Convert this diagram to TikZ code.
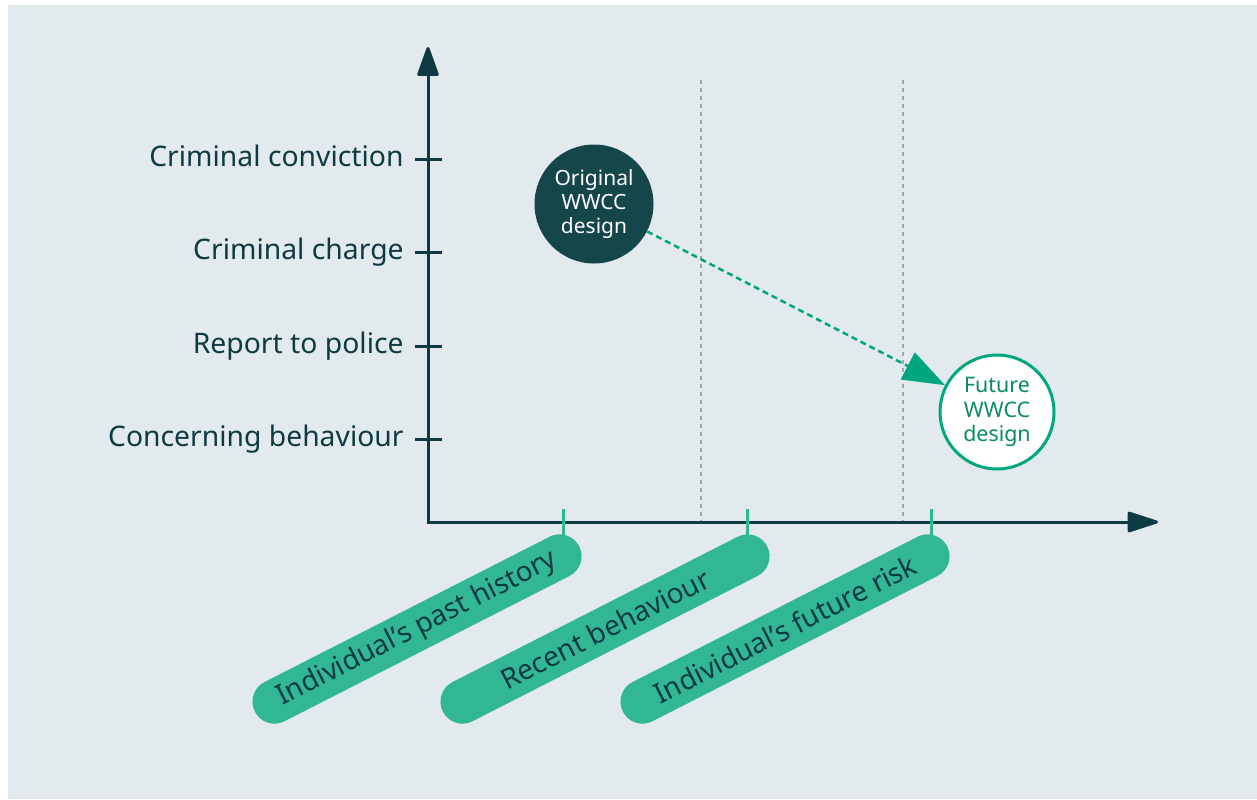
\documentclass[tikz,border=0pt]{standalone}
\usepackage{fontspec}
\setmainfont{Noto Sans}
\usetikzlibrary{arrows.meta}
\definecolor{bg}{HTML}{E2EAED}
\definecolor{axisc}{HTML}{0E3B43}
\definecolor{darkc}{HTML}{15464A}
\definecolor{greenc}{HTML}{00A67E}
\definecolor{greentext}{HTML}{0B8A66}
\definecolor{pillc}{HTML}{32B794}
\definecolor{greyd}{HTML}{A3A6A8}
\begin{document}
\begin{tikzpicture}[x=0.5pt,y=-0.5pt,
  axisline/.style={draw=axisc, line width=1.5pt},
  griddash/.style={draw=greyd, line width=1pt, dash pattern=on 2.2pt off 1.8pt},
  gtick/.style={draw=pillc, line width=1.5pt},
  ylab/.style={anchor=base east, inner sep=0pt, text=axisc, font=\fontsize{14.15}{17}\selectfont},
  pill/.style={rectangle, rotate=27, fill=pillc, minimum width=182pt, minimum height=22pt,
    rounded corners=10.99pt, inner sep=0pt, text=axisc, font=\fontsize{14}{17}\selectfont},
  origc/.style={circle, fill=darkc, minimum size=59.5pt, inner sep=0pt, text=white, align=center,
    font=\fontsize{10.5}{12.2}\selectfont},
  futc/.style={circle, draw=greenc, line width=1.5pt, fill=white, minimum size=57pt, inner sep=0pt,
    text=greentext, align=center, font=\fontsize{10.7}{12.2}\selectfont},
  flow/.style={draw=greenc, line width=1.25pt, dash pattern=on 3pt off 2pt,
    -{Triangle[length=21pt,width=15pt]}}
]
\useasboundingbox (0,0) rectangle (1257,799);
\fill[bg] (8,5) rectangle (1257,799);

% grey dashed guides
\coordinate (g1t) at (701,80); \coordinate (g1b) at (701,522);
\coordinate (g2t) at (903,80); \coordinate (g2b) at (903,522);
\draw[griddash] (g1t) -- (g1b);
\draw[griddash] (g2t) -- (g2b);

% axes
\coordinate (O) at (428,522);
\coordinate (YT) at (428,47);
\coordinate (XT) at (1158,522);
\draw[axisline, {Triangle[length=16pt,width=11pt,round]}-{Triangle[length=17pt,width=10.5pt,round]}] (YT) -- (O) -- (XT);

% y ticks and labels
\foreach \y/\t [count=\i] in {159/Criminal conviction,252/Criminal charge,346/Report to police,439/Concerning behaviour}{
  \coordinate (ya\i) at (415,\y);
  \coordinate (yb\i) at (442,\y);
  \draw[axisline] (ya\i) -- (yb\i);
  \node[ylab] (yl\i) at (404,\y+7.5) {\t};
}

% x ticks and pills
\foreach \tx/\px/\t [count=\i] in {563/417/Individual’s past history,747/605/Recent behaviour,931/785/Individual’s future risk}{
  \coordinate (xa\i) at (\tx,509);
  \coordinate (xb\i) at (\tx,548);
  \draw[gtick] (xa\i) -- (xb\i);
  \node[pill] (p\i) at (\px,629) {\t};
}

% circles
\node[origc] (orig) at (594,204) {Original\\WWCC\\design};
\node[futc] (fut) at (997,412) {Future\\WWCC\\design};
\draw[flow] (orig) -- (fut);
\end{tikzpicture}
\end{document}
